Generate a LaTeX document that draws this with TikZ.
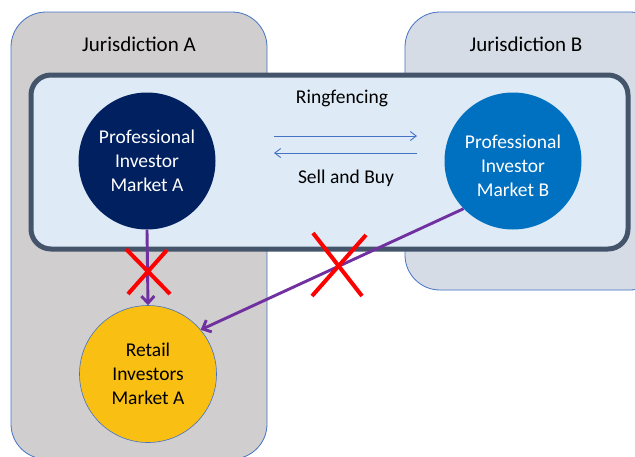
\documentclass[tikz,border=0pt]{standalone}
\usepackage{fontspec}
\setmainfont{Carlito}
\usetikzlibrary{arrows.meta}
\definecolor{jA}{HTML}{D0CECE}
\definecolor{jB}{HTML}{D6DCE5}
\definecolor{edgeblue}{HTML}{4472C4}
\definecolor{ringc}{HTML}{44546A}
\definecolor{ringfill}{HTML}{DEEBF7}
\definecolor{navy}{HTML}{002060}
\definecolor{mblue}{HTML}{0070C0}
\definecolor{gold}{HTML}{F9C013}
\definecolor{purp}{HTML}{7030A0}
\tikzset{
  jbox/.style={draw=edgeblue, line width=0.8pt, rounded corners=35pt},
  lbl/.style={font=\fontsize{19.5}{24}\selectfont, align=center},
  hdr/.style={font=\fontsize{21}{25}\selectfont},
  market/.style={circle, minimum size=137pt, inner sep=0pt, lbl},
  barrow/.style={draw=edgeblue, line width=0.9pt, -{Straight Barb[length=6pt,width=9pt]}},
  parrow/.style={draw=purp, line width=2.9pt, -{Straight Barb[length=7pt,width=13pt]}},
  cross/.style={draw=red, line width=4pt}
}
\begin{document}
\begin{tikzpicture}[x=1pt,y=-1pt]
\useasboundingbox (0,0) rectangle (635,456);
\clip (0,0) rectangle (635,456);
% jurisdictions
\draw[jbox, fill=jA] (11,12) rectangle (267,459);
\draw[jbox, fill=jB] (405,12) rectangle (665,290);
\node[hdr] (jAt) at (139,44) {Jurisdiction A};
\node[hdr] (jBt) at (526,44) {Jurisdiction B};
% ringfence
\draw[draw=ringc, fill=ringfill, line width=5pt, rounded corners=20pt] (31,75) rectangle (628,249);
\node[lbl] (ring) at (342,98) {Ringfencing};
% markets
\node[market, fill=navy, text=white] (pA) at (147,161) {Professional\\Investor\\Market A};
\node[market, fill=mblue] (pB) at (513,161) {};
\node[lbl, text=white] (pBt) at (513,166) {Professional\\Investor\\Market B};
\node[market, fill=gold, draw=edgeblue, line width=0.6pt, text=black] (ret) at (148,374) {Retail\\Investors\\Market A};
% sell and buy
\coordinate (s1) at (274,136);
\coordinate (s2) at (417,136);
\coordinate (b1) at (417,153);
\coordinate (b2) at (274,153);
\draw[barrow] (s1) -- (s2);
\draw[barrow] (b1) -- (b2);
\node[lbl] (sb) at (346,178) {Sell and Buy};
% purple arrows
\draw[parrow] (pA.south) -- (ret.north);
\draw[parrow] (pB.224) -- (ret.40);
% red crosses
\draw[cross] (126,249) -- (170,294);
\draw[cross] (167,250) -- (128,294);
\draw[cross] (313,233) -- (362,296);
\draw[cross] (366,235) -- (312,296);
\end{tikzpicture}
\end{document}
